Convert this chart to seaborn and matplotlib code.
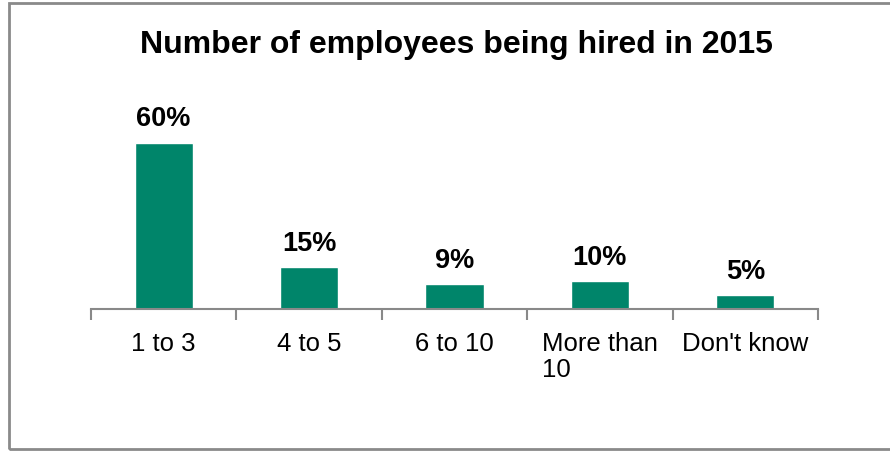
import matplotlib
matplotlib.use("Agg")
import matplotlib.pyplot as plt
from matplotlib.patches import Rectangle
import seaborn as sns
import pandas as pd

categories = ["1 to 3", "4 to 5", "6 to 10", "More than\n10", "Don't know"]
shares = [60, 15, 9, 10, 5]
value_labels = ["60%", "15%", "9%", "10%", "5%"]

sns.set_theme(style="white")
plt.rcParams["font.family"] = ["Liberation Sans", "DejaVu Sans"]

df = pd.DataFrame({"category": categories, "share": shares})

fig = plt.figure(figsize=(8.9, 4.52), dpi=100)
ax = fig.add_axes([0.1022, 0.3142, 0.8169, 0.4292])

sns.barplot(data=df, x="category", y="share", color="#00856A",
            saturation=1, width=0.4, ax=ax)

ax.set_ylim(0, 70)
ax.set_xlim(-0.5, len(categories) - 0.5)

for i, (v, lab) in enumerate(zip(shares, value_labels)):
    ax.text(i, v + 4.1, lab, ha="center", va="bottom",
            fontsize=19.5, fontweight="bold", color="black")

for s in ["top", "right", "left"]:
    ax.spines[s].set_visible(False)
ax.spines["bottom"].set_color("#898989")
ax.spines["bottom"].set_linewidth(1.5)
ax.set_yticks([])
ax.set_xlabel("")
ax.set_ylabel("")

# category labels centred under each bar, tick marks at category boundaries
ax.set_xticks(range(len(categories)))
ax.set_xticklabels(categories, fontsize=18.5, color="black",
                   multialignment="left", linespacing=1.12)
ax.tick_params(axis="x", which="major", bottom=False, length=0, pad=15.5)
ax.set_xticks([i - 0.5 for i in range(len(categories) + 1)], minor=True)
ax.tick_params(axis="x", which="minor", bottom=True, length=8, width=1.5,
               color="#898989", direction="out")

fig.text(0.513, 0.90, "Number of employees being hired in 2015",
         ha="center", va="center", fontsize=23, fontweight="bold",
         color="black")

fig.patches.append(Rectangle((9 / 890, 2 / 452), 1.2, 446 / 452,
                             transform=fig.transFigure, fill=False,
                             edgecolor="#8a8a8a", linewidth=2))

fig.savefig("out.png", dpi=100, facecolor="white")
